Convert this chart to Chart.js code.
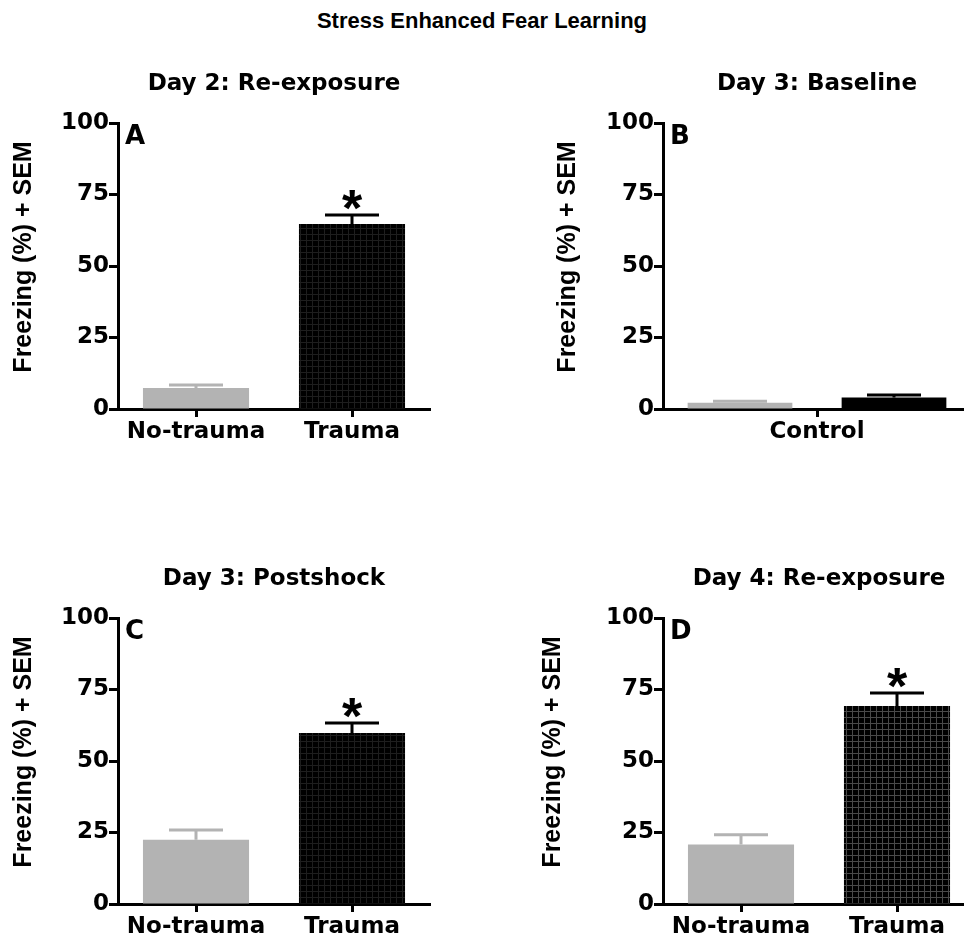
<!DOCTYPE html>
<html lang="en">
<head>
  <meta charset="UTF-8">
  <title>Stress Enhanced Fear Learning</title>
  <script src="https://cdn.jsdelivr.net/npm/chart.js"></script>
  <style>
    body { margin: 0; width: 964px; height: 941px; overflow: hidden; background: #fff; position: relative; }
    h1 { position: absolute; top: 6px; left: 0; width: 964px; margin: 0; text-align: center;
         font: bold 22px/30px "Liberation Sans", Arial, sans-serif; color: #000; }
    canvas { position: absolute; }
  </style>
</head>
<body>
  <h1>Stress Enhanced Fear Learning</h1>
  <canvas id="panelA" width="480" height="400" style="left:0;top:60px"></canvas>
  <canvas id="panelB" width="500" height="400" style="left:480px;top:60px"></canvas>
  <canvas id="panelC" width="480" height="400" style="left:0;top:555px"></canvas>
  <canvas id="panelD" width="500" height="400" style="left:480px;top:555px"></canvas>

  <script>
    // values (freezing %, mean and SEM)
    const groups = ['No-trauma', 'Trauma'];
    const yTicks = [0, 25, 50, 75, 100];

    const day2Mean = [7.3, 64.7];
    const day2Sem = [1.1, 3.1];

    const baselineGroup = ['Control'];
    const baselineNoTrauma = [2.2];
    const baselineNoTraumaSem = [0.5];
    const baselineTrauma = [4.0];
    const baselineTraumaSem = [0.9];

    const day3Mean = [22.5, 59.8];
    const day3Sem = [3.4, 3.5];

    const day4Mean = [20.8, 69.2];
    const day4Sem = [3.4, 4.6];

    const GREY = '#b3b3b3';
    const BLACK = '#000000';
    const TICK_FONT = { family: '"DejaVu Sans", sans-serif', size: 23, weight: 'bold' };

    // black fill with a faint grid, like the trauma bars
    function hatch(lineColor) {
      const c = document.createElement('canvas');
      c.width = 6; c.height = 6;
      const g = c.getContext('2d');
      g.fillStyle = BLACK;
      g.fillRect(0, 0, 6, 6);
      g.fillStyle = lineColor;
      g.fillRect(0, 0, 1, 6);
      g.fillRect(0, 0, 6, 1);
      return g.createPattern(c, 'repeat');
    }

    const panelDecor = {
      id: 'panelDecor',
      afterDraw(chart, args, opts) {
        const ctx = chart.ctx;
        const a = chart.chartArea;
        const y = chart.scales.y;
        ctx.save();

        // error bars (mean + SEM)
        chart.data.datasets.forEach((ds, i) => {
          chart.getDatasetMeta(i).data.forEach((bar, j) => {
            const capY = y.getPixelForValue(ds.data[j] + ds.sem[j]);
            ctx.strokeStyle = ds.errColor[j];
            ctx.lineWidth = 3;
            ctx.beginPath();
            ctx.moveTo(bar.x, bar.y);
            ctx.lineTo(bar.x, capY);
            ctx.moveTo(bar.x - 27, capY);
            ctx.lineTo(bar.x + 27, capY);
            ctx.stroke();
            if (opts.star === j) {
              ctx.fillStyle = BLACK;
              ctx.font = 'bold 52px "Liberation Sans", Arial, sans-serif';
              ctx.textAlign = 'center';
              ctx.textBaseline = 'alphabetic';
              ctx.fillText('*', bar.x, capY + 11);
            }
          });
        });

        ctx.fillStyle = BLACK;
        // panel heading
        ctx.font = 'bold 23px "DejaVu Sans", sans-serif';
        ctx.textAlign = 'center';
        ctx.textBaseline = 'middle';
        ctx.fillText(opts.title, (a.left + a.right) / 2, a.top - 39);

        // panel letter
        ctx.font = 'bold 26px "DejaVu Sans", sans-serif';
        ctx.textAlign = 'left';
        ctx.textBaseline = 'alphabetic';
        ctx.fillText(opts.letter, a.left + 7, a.top + 21);

        // y axis label
        ctx.translate(a.left + opts.labelDx, (a.top + a.bottom) / 2 - 9);
        ctx.rotate(-Math.PI / 2);
        ctx.font = 'bold 25px "Liberation Sans", Arial, sans-serif';
        ctx.textAlign = 'center';
        ctx.textBaseline = 'middle';
        ctx.fillText('Freezing (%) + SEM', 0, 0);
        ctx.restore();
      }
    };

    function panel(id, labels, datasets, decor, padLeft, padRight) {
      return new Chart(document.getElementById(id), {
        type: 'bar',
        data: { labels: labels, datasets: datasets },
        plugins: [panelDecor],
        options: {
          responsive: false,
          animation: false,
          devicePixelRatio: 1,
          layout: { padding: { left: padLeft, right: padRight, top: 63, bottom: 11 } },
          datasets: { bar: { categoryPercentage: 1, barPercentage: 0.68 } },
          plugins: {
            legend: { display: false },
            tooltip: { enabled: false },
            panelDecor: decor
          },
          scales: {
            x: {
              z: 1,
              offset: true,
              grid: { offset: false, drawOnChartArea: false, tickLength: 8, tickWidth: 3, tickColor: BLACK },
              border: { color: BLACK, width: 3 },
              ticks: { font: TICK_FONT, color: BLACK, padding: 1, maxRotation: 0 },
              afterFit: function (s) { s.height = 40; }
            },
            y: {
              z: 1,
              min: 0,
              max: 100,
              afterBuildTicks: function (s) { s.ticks = yTicks.map(v => ({ value: v })); },
              grid: { drawOnChartArea: false, tickLength: 9, tickWidth: 3, tickColor: BLACK },
              border: { color: BLACK, width: 3 },
              ticks: { font: TICK_FONT, color: BLACK, padding: 0 },
              afterFit: function (s) { s.width = 60; }
            }
          }
        }
      });
    }

    panel('panelA', groups, [{
      data: day2Mean, sem: day2Sem,
      backgroundColor: [GREY, hatch('#1e1e1e')],
      errColor: [GREY, BLACK]
    }], { title: 'Day 2: Re-exposure', letter: 'A', labelDx: -94, star: 1 }, 58, 50);

    panel('panelB', baselineGroup, [{
      data: baselineNoTrauma, sem: baselineNoTraumaSem,
      backgroundColor: GREY, errColor: [GREY]
    }, {
      data: baselineTrauma, sem: baselineTraumaSem,
      backgroundColor: BLACK, errColor: [BLACK]
    }], { title: 'Day 3: Baseline', letter: 'B', labelDx: -95, star: -1 }, 123, 9);

    panel('panelC', groups, [{
      data: day3Mean, sem: day3Sem,
      backgroundColor: [GREY, hatch('#1e1e1e')],
      errColor: [GREY, BLACK]
    }], { title: 'Day 3: Postshock', letter: 'C', labelDx: -94, star: 1 }, 58, 50);

    panel('panelD', groups, [{
      data: day4Mean, sem: day4Sem,
      backgroundColor: [GREY, hatch('#4a4a4a')],
      errColor: [GREY, BLACK]
    }], { title: 'Day 4: Re-exposure', letter: 'D', labelDx: -110, star: 1 }, 123, 5);
  </script>
</body>
</html>
